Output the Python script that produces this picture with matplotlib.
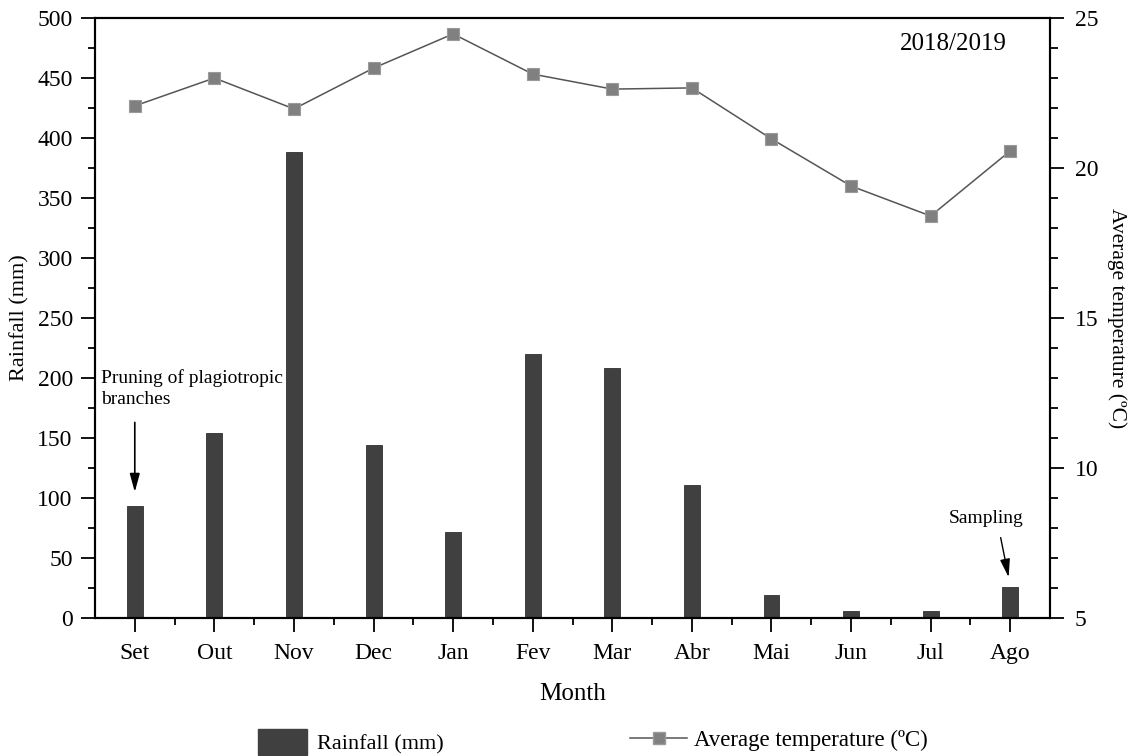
import matplotlib.pyplot as plt
import numpy as np
from matplotlib.lines import Line2D
import matplotlib.patches as mpatches
from matplotlib.ticker import MultipleLocator

plt.rcParams['font.family'] = ['Liberation Serif', 'DejaVu Serif']

months = ['Set', 'Out', 'Nov', 'Dec', 'Jan', 'Fev', 'Mar', 'Abr', 'Mai', 'Jun', 'Jul', 'Ago']
rainfall = [93, 154, 388, 144, 72, 220, 208, 111, 19, 6, 6, 26]
temperature = [22.07, 23.0, 21.97, 23.33, 24.47, 23.13, 22.63, 22.67, 20.97, 19.4, 18.4, 20.57]

fig = plt.figure(figsize=(11.33, 7.56), dpi=100)
ax = fig.add_axes([95/1133, 1-618/756, (1050-95)/1133, 600/756])
x = np.arange(len(months))
ax.bar(x, rainfall, width=0.2, color='#404040', edgecolor='#303030', linewidth=0.6, zorder=2)
ax.set_xlim(-0.5, 11.5)
ax.set_ylim(0, 500)
ax.yaxis.set_major_locator(MultipleLocator(50))
ax.yaxis.set_minor_locator(MultipleLocator(25))
ax.set_xticks(x)
ax.set_xticklabels(months)
ax.set_xticks(x[:-1] + 0.5, minor=True)
ax.tick_params(axis='both', which='major', direction='out', length=10, width=1.3, labelsize=17)
ax.tick_params(axis='both', which='minor', direction='out', length=5, width=1.3)
ax.tick_params(axis='x', pad=8)
ax.tick_params(axis='y', pad=6)
for s in ax.spines.values():
    s.set_linewidth(1.5)
ax.set_ylabel('Rainfall (mm)', fontsize=16, labelpad=6)
ax.set_xlabel('Month', fontsize=18, labelpad=14)

ax2 = ax.twinx()
ax2.plot(x, temperature, color='#555555', linewidth=1.1, marker='s', markersize=9,
         markerfacecolor='#808080', markeredgecolor='#9a9a9a', markeredgewidth=0.8)
ax2.set_ylim(5, 25)
ax2.yaxis.set_major_locator(MultipleLocator(5))
ax2.yaxis.set_minor_locator(MultipleLocator(1))
ax2.tick_params(axis='y', which='major', direction='out', length=10, width=1.3, labelsize=17, pad=8)
ax2.tick_params(axis='y', which='minor', direction='out', length=6, width=1.3)
ax2.set_ylabel('Average temperature (ºC)', fontsize=15.5, rotation=-90, labelpad=20)
for s in ax2.spines.values():
    s.set_linewidth(1.5)

ax.text(0.955, 0.975, '2018/2019', transform=ax.transAxes, fontsize=18, ha='right', va='top')

ax.text(-0.42, 191, 'Pruning of plagiotropic\nbranches', fontsize=14, ha='left', va='center',
        linespacing=1.3)
ax.annotate('', xy=(0, 105), xytext=(0, 163),
            arrowprops=dict(arrowstyle='-|>,head_width=0.3,head_length=1.1', color='black', lw=1.2,
                            shrinkA=0, shrinkB=0))
ax.text(10.7, 83, 'Sampling', fontsize=14, ha='center', va='center')
ax.annotate('', xy=(10.98, 34), xytext=(10.88, 67),
            arrowprops=dict(arrowstyle='-|>,head_width=0.3,head_length=1.1', color='black', lw=1.0,
                            shrinkA=0, shrinkB=0))

h1 = mpatches.Patch(color='#404040')
h2 = Line2D([], [], color='#555555', linewidth=1.1, marker='s', markersize=9,
            markerfacecolor='#808080', markeredgecolor='#9a9a9a')
fig.legend([h1], ['Rainfall (mm)'], loc='center left', bbox_to_anchor=(258/1133, 1-742/756),
           frameon=False, fontsize=16, handlelength=2.2, handleheight=1.4, handletextpad=0.45,
           borderpad=0, borderaxespad=0)
fig.legend([h2], ['Average temperature (ºC)'], loc='center left', bbox_to_anchor=(630/1133, 1-740/756),
           frameon=False, fontsize=16.5, handlelength=2.5, handletextpad=0.3,
           borderpad=0, borderaxespad=0)

fig.savefig('out.png', dpi=100)
